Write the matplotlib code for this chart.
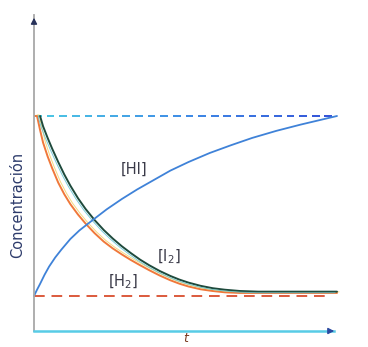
import matplotlib
matplotlib.use("Agg")
import matplotlib.pyplot as plt
import numpy as np

# ---- data (time in arbitrary units 0..10, concentration 0..1) ----
t_hi = [0.0, 0.1, 0.2, 0.35, 0.5, 0.7, 0.9, 1.2, 1.5, 1.9, 2.4, 2.9, 3.4, 3.9, 4.5,
        5.1, 5.8, 6.5, 7.2, 8.0, 8.8, 9.4, 10.0]
c_hi = [0.163, 0.192, 0.219, 0.262, 0.300, 0.342, 0.378, 0.428, 0.468, 0.512, 0.566,
        0.614, 0.658, 0.698, 0.746, 0.786, 0.828, 0.864, 0.898, 0.931, 0.960, 0.980, 1.0]

t_i2 = [0.20, 0.30, 0.45, 0.60, 0.80, 1.00, 1.20, 1.45, 1.70, 2.00, 2.30, 2.60, 2.90,
        3.20, 3.50, 3.80, 4.15, 4.50, 4.80, 5.10, 5.50, 5.90, 6.30, 6.80, 7.40, 10.0]
c_i2 = [1.000, 0.952, 0.898, 0.848, 0.786, 0.728, 0.676, 0.618, 0.568, 0.516, 0.470,
        0.430, 0.394, 0.362, 0.332, 0.306, 0.279, 0.256, 0.239, 0.225, 0.210, 0.199,
        0.192, 0.186, 0.183, 0.183]

t_h2 = [0.03, 0.10, 0.20, 0.30, 0.45, 0.60, 0.80, 1.00, 1.20, 1.45, 1.70, 2.00, 2.30,
        2.60, 2.90, 3.20, 3.50, 3.80, 4.15, 4.50, 4.80, 5.10, 5.50, 5.90, 6.30, 6.80, 10.0]
c_h2 = [1.000, 1.000, 0.935, 0.876, 0.812, 0.757, 0.690, 0.636, 0.590, 0.542, 0.500,
        0.455, 0.416, 0.384, 0.356, 0.330, 0.306, 0.283, 0.258, 0.236, 0.220, 0.207,
        0.194, 0.186, 0.180, 0.177, 0.177]

eq_hi = 1.0       # final [HI] level (top dashed line)
eq_low = 0.163    # initial [HI] level (bottom dashed line)
t_end = 10.0

labels = {"hi": "[HI]", "i2": "[I$_2$]", "h2": "[H$_2$]"}
ylabel = "Concentración"
xlabel = "t"

# ---- figure ----
fig = plt.figure(figsize=(3.68, 3.47), dpi=100)
ax = fig.add_axes([0, 0, 1, 1])
px_x = 30.3   # pixels per time unit
px_y = 215.0  # pixels per concentration unit
ax.set_xlim(-34 / px_x, (368 - 34) / px_x)
ax.set_ylim((331 - 347) / px_y, 331 / px_y)
ax.axis("off")

# dashed top line with cyan -> blue gradient
n = 24
xs = np.linspace(0, t_end, n + 1)
cmap = matplotlib.colors.LinearSegmentedColormap.from_list("g", ["#48c8e4", "#3a8ae6", "#3050d8"])
for i in range(n):
    ax.plot([xs[i], xs[i] + (xs[i + 1] - xs[i]) * 0.62], [eq_hi, eq_hi],
            color=cmap(i / (n - 1)), lw=1.4, solid_capstyle="butt")

# dashed bottom line
ax.plot([0, t_end * 0.98], [eq_low, eq_low], color="#dc5a3c", lw=1.4,
        dashes=(5.5, 3.5))

# curves
kw = dict(solid_joinstyle="round", solid_capstyle="round")
ax.plot(t_h2, c_h2, color="#f0783a", lw=1.4, **kw)
ax.plot(np.array(t_h2) + 0.07, np.array(c_h2) + 0.005, color="#f2d060", lw=0.7, alpha=0.8, **kw)
ax.plot(t_i2, c_i2, color="#1e4a3c", lw=1.4, **kw)
ax.plot(np.array(t_i2) - 0.06, np.array(c_i2) - 0.005, color="#5ac0d0", lw=0.7, alpha=0.8, **kw)
ax.plot(t_hi, c_hi, color="#3f82d8", lw=1.3, **kw)

# axes
top = 331 / px_y - 15 / px_y
ax.plot([0, 0], [0, top], color="#a8a8a8", lw=1.3)
ax.annotate("", xy=(0, top), xytext=(0, top - 0.04),
            arrowprops=dict(arrowstyle="-|>,head_width=0.18,head_length=0.35",
                            color="#28325a", lw=1.0))
ax.plot([0, t_end - 0.1], [0, 0], color="#58cce6", lw=1.8)
ax.annotate("", xy=(t_end, 0), xytext=(t_end - 0.3, 0),
            arrowprops=dict(arrowstyle="-|>,head_width=0.18,head_length=0.35",
                            color="#2a4aa0", lw=1.0))

# labels
txtc = "#3a3a48"
ax.text((134 - 34) / px_x, (331 - 169) / px_y, labels["hi"], ha="center", va="center",
        fontsize=10.5, color=txtc)
ax.text((169 - 34) / px_x, (331 - 257) / px_y, labels["i2"], ha="center", va="center",
        fontsize=10.5, color=txtc)
ax.text((123 - 34) / px_x, (331 - 282) / px_y, labels["h2"], ha="center", va="center",
        fontsize=10.5, color=txtc)
ax.text((18 - 34) / px_x, (331 - 205) / px_y, ylabel, rotation=90, ha="center", va="center",
        fontsize=10.5, color="#2d3b6b")
ax.text((186 - 34) / px_x, (331 - 345) / px_y, xlabel, ha="center", va="bottom",
        fontsize=9, color="#7a3a20", style="italic")

fig.savefig("out.png", dpi=100, facecolor="white")
